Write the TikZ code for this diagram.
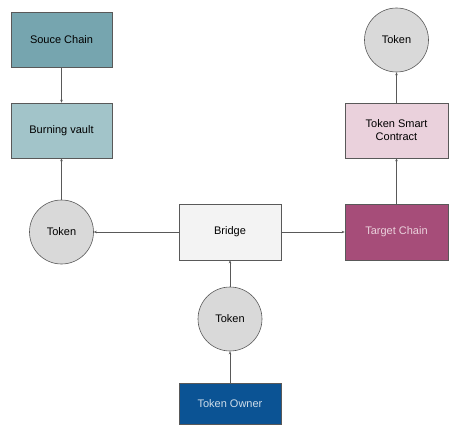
\documentclass[tikz,border=0pt]{standalone}
\usepackage{fontspec}
\setmainfont{Liberation Sans}
\usetikzlibrary{arrows.meta}

\definecolor{srcfill}{HTML}{76A5AF}
\definecolor{vaultfill}{HTML}{A2C4C9}
\definecolor{tokenfill}{HTML}{D9D9D9}
\definecolor{bridgefill}{HTML}{F3F3F3}
\definecolor{targetfill}{HTML}{A64D79}
\definecolor{contractfill}{HTML}{EAD1DC}
\definecolor{ownerfill}{HTML}{0B5394}
\definecolor{edgegray}{HTML}{595959}

\begin{document}
\begin{tikzpicture}[x=1pt,y=-1pt,
    box/.style={draw=edgegray,line width=0.6pt,minimum width=101pt,minimum height=55pt,
      align=center,font=\fontsize{11}{13}\selectfont},
    token/.style={circle,draw=edgegray,line width=0.6pt,fill=tokenfill,minimum size=64pt,
      inner sep=0pt,font=\fontsize{11}{13}\selectfont},
    flow/.style={draw=edgegray,line width=0.6pt,-{Stealth[length=3pt,width=2.5pt]}}]
    \useasboundingbox (0,0) rectangle (474,436);

    % linke Spalte
    \node[box,fill=srcfill] (src) at (61.5,39.5) {Souce Chain};
    \node[box,fill=vaultfill] (vault) at (61.5,130.5) {Burning vault};
    \node[token] (tokL) at (61.5,232) {Token};

    % Mitte
    \node[box,fill=bridgefill,minimum width=102pt,minimum height=56pt] (bridge) at (230,232) {Bridge};
    \node[token] (tokM) at (230,319) {Token};
    \node[box,fill=ownerfill,text=ownerfill!20,minimum width=102pt,minimum height=41pt] (owner) at (230,403.5) {Token Owner};

    % rechte Spalte
    \node[box,fill=targetfill,text=contractfill,minimum width=103pt,minimum height=56pt] (target) at (396.5,232) {Target Chain};
    \node[box,fill=contractfill,minimum width=103pt] (tsc) at (396.5,130.5) {Token Smart\\Contract};
    \node[token] (tokT) at (396.5,40) {Token};

    % Pfeile
    \draw[flow] (src) -- (vault);
    \draw[flow] (tokL) -- (vault);
    \draw[flow] (bridge) -- (tokL);
    \draw[flow] (bridge) -- (target);
    \draw[flow] (owner) -- (tokM);
    \draw[flow] (tokM) -- (bridge);
    \draw[flow] (target) -- (tsc);
    \draw[flow] (tsc) -- (tokT);

\end{tikzpicture}
\end{document}
